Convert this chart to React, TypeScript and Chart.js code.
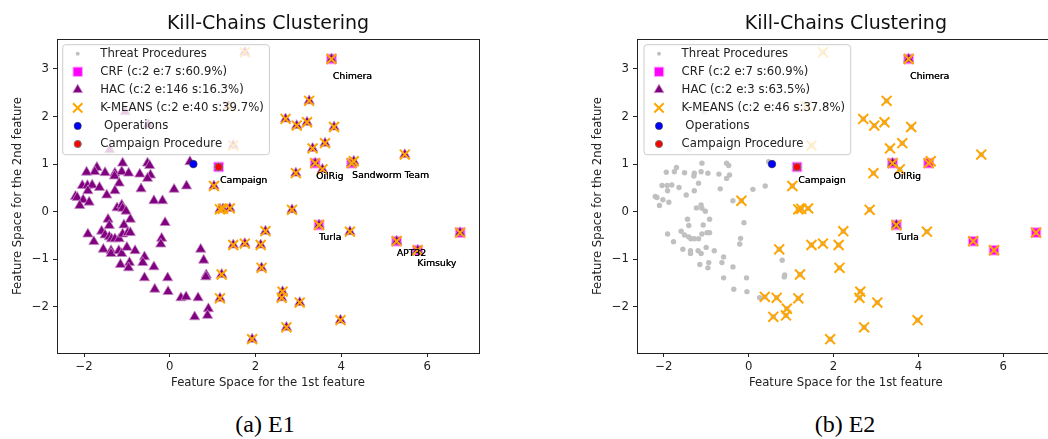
import React, { useEffect, useRef } from "react";
import { Chart, registerables } from "chart.js";

Chart.register(...registerables);

const FONT = '"DejaVu Sans", "Liberation Sans", sans-serif';
Chart.defaults.font.family = FONT;

// ---------- data ----------
// main group of threat procedures (left cloud)
const groupAX = [
  -1.70, -1.75, -1.94, -1.51, -1.28, -1.10, -1.12, -0.96, -1.29, -0.70, -0.52, -0.47, -0.45, -0.52,
  -2.04, -1.92, -1.81, -1.91, -1.64, -1.18, -1.28, -1.47, -0.67, 0.10, 0.39,
  -2.20, -2.16, -2.02, -1.88, -2.10, -0.37,
  -1.23, -1.12, -1.10, -1.02, -1.44, -0.92, -0.11, -1.41, -1.07,
  -1.91, -1.59, -1.51, -1.41, -1.36, -1.28, -1.18, -1.10, -0.98, -0.92, -1.77, -0.19, -0.21,
  -1.55, -1.37, -1.37, -1.19, -1.12, -1.00, -0.81, -0.59, -1.15, -0.94, -0.96, -0.63, -0.37,
  -0.59, -0.05, -0.35, -0.04, 0.26,
  0.79, 0.85, 0.84, 0.47, -1.04, -1.40, -0.50,
];
const groupAY = [
  0.93, 0.84, 0.83, 0.82, 0.81, 1.02, 0.84, 0.81, 0.75, 0.79, 1.02, 0.97, 0.77, 0.70,
  0.55, 0.55, 0.56, 0.44, 0.51, 0.60, 0.44, 0.35, 0.48, 0.47, 0.54,
  0.32, 0.30, 0.25, 0.20, 0.13, 0.23,
  0.08, 0.14, 0.07, 0.01, -0.16, -0.16, -0.23, -0.29, -0.28,
  -0.47, -0.41, -0.49, -0.53, -0.57, -0.57, -0.57, -0.47, -0.44, -0.44, -0.63, -0.56, -0.68,
  -0.79, -0.82, -0.88, -0.82, -0.88, -0.75, -0.82, -0.95, -1.11, -1.07, -1.18, -1.07, -1.16,
  -1.39, -1.39, -1.63, -1.68, -1.81,
  -1.02, -1.33, -1.37, 1.05, 2.10, 1.30, 1.83,
];
// borderline procedures (K-MEANS flags them only in E2)
const borderX = [-0.17, 0.72, 0.38, 0.66, 0.90, 0.88, 0.58];
const borderY = [0.23, -0.79, -1.79, -1.81, -2.04, -2.18, -2.21];
// outer group of procedures (right cloud)
const outerX = [
  1.75, 3.77, 3.25, 2.70, 2.96, 3.20, 3.83, 3.62, 3.33, 5.48,
  1.48, 1.37, 3.39, 3.56, 4.24, 4.29, 2.94, 1.03, 1.17, 1.24,
  1.40, 2.85, 3.48, 4.20, 5.29, 5.78, 6.77, 2.23, 1.48, 1.75,
  2.12, 2.14, 1.21, 1.17, 2.63, 2.61, 3.03, 3.98, 2.72, 1.92,
];
const outerY = [
  3.35, 3.21, 2.33, 1.95, 1.81, 1.88, 1.78, 1.44, 1.33, 1.20,
  1.39, 2.22, 1.02, 0.89, 1.02, 1.06, 0.81, 0.54, 0.05, 0.06,
  0.07, 0.04, -0.28, -0.42, -0.62, -0.81, -0.44, -0.41, -0.70, -0.67,
  -0.70, -1.18, -1.32, -1.82, -1.68, -1.81, -1.91, -2.28, -2.43, -2.68,
];
const campaignX = [1.14];
const campaignY = [0.94];
const operationsX = [0.55];
const operationsY = [1.0];
const crfX = [3.77, 1.14, 3.39, 4.24, 3.48, 5.29, 5.78, 6.77];
const crfY = [3.21, 0.94, 1.02, 1.02, -0.28, -0.62, -0.81, -0.44];
const hacE2X = [3.77, 3.39, 3.48];
const hacE2Y = [3.21, 1.02, -0.28];

const annotNames = ["Chimera", "Campaign", "OilRig", "Sandworm Team", "Turla", "APT32", "Kimsuky"];
const annotX = [3.80, 1.17, 3.41, 4.25, 3.48, 5.29, 5.77];
const annotY = [2.84, 0.65, 0.73, 0.75, -0.55, -0.89, -1.09];
const annotNamesE2 = ["Chimera", "Campaign", "OilRig", "Turla"];

const xTicks = [-2, 0, 2, 4, 6];
const yTicks = [-2, -1, 0, 1, 2, 3];
const X_RANGE = [-2.63, 7.21];
const Y_RANGE = [-2.97, 3.63];

const legendE1 = ["Threat Procedures", "CRF (c:2 e:7 s:60.9%)", "HAC (c:2 e:146 s:16.3%)", "K-MEANS (c:2 e:40 s:39.7%)", " Operations", "Campaign Procedure"];
const legendE2 = ["Threat Procedures", "CRF (c:2 e:7 s:60.9%)", "HAC (c:2 e:3 s:63.5%)", "K-MEANS (c:2 e:46 s:37.8%)", " Operations", "Campaign Procedure"];

// ---------- helpers ----------
const pts = (xs: number[], ys: number[]) => xs.map((x, i) => ({ x, y: ys[i] }));
const fmt = (v: number) => (v < 0 ? "\u2212" + Math.abs(v) : String(v));

function buildDatasets(variant: "E1" | "E2") {
  const A = pts(groupAX, groupAY);
  const B = pts(borderX, borderY);
  const C = pts(outerX, outerY);
  const labels = variant === "E1" ? legendE1 : legendE2;
  const threat = [...A, ...B, ...C, ...pts(campaignX, campaignY)];
  const hac = variant === "E1" ? [...A, ...B, ...C] : pts(hacE2X, hacE2Y);
  const km = variant === "E1" ? C : [...B, ...C];
  return [
    { label: labels[0], data: threat, pointStyle: "circle", pointRadius: 2.7, pointBackgroundColor: "#c0c0c0", pointBorderColor: "#c0c0c0", pointBorderWidth: 0, order: 6, legendRadius: 2 },
    { label: labels[1], data: pts(crfX, crfY), pointStyle: "rect", pointRadius: 6.8, pointBackgroundColor: "#ff00ff", pointBorderColor: "#ffa0ff", pointBorderWidth: 1, order: 5, legendRadius: 6.6 },
    { label: labels[2], data: hac, pointStyle: "triangle", pointRadius: 5.9, pointBackgroundColor: "#800080", pointBorderColor: "#c48ac4", pointBorderWidth: 0.8, order: 4, legendRadius: 5.6 },
    { label: labels[3], data: km, pointStyle: "crossRot", pointRadius: 7, pointBackgroundColor: "#ffa500", pointBorderColor: "#ffa500", pointBorderWidth: 2, order: 3, legendRadius: 6.6 },
    { label: labels[4], data: pts(operationsX, operationsY), pointStyle: "circle", pointRadius: 3.8, pointBackgroundColor: "#0000ff", pointBorderColor: "#333333", pointBorderWidth: 0.6, order: 2, legendRadius: 3.6 },
    { label: labels[5], data: pts(campaignX, campaignY), pointStyle: "circle", pointRadius: 3.8, pointBackgroundColor: "#ff0000", pointBorderColor: "#777777", pointBorderWidth: 1, order: 1, legendRadius: 3.6 },
  ];
}

function drawMarker(ctx: CanvasRenderingContext2D, style: string, x: number, y: number, r: number, fill: string, stroke: string, lw: number) {
  ctx.save();
  ctx.beginPath();
  if (style === "circle") {
    ctx.arc(x, y, r, 0, Math.PI * 2);
  } else if (style === "rect") {
    const s = r * Math.SQRT1_2;
    ctx.rect(x - s, y - s, 2 * s, 2 * s);
  } else if (style === "triangle") {
    let a = 0;
    ctx.moveTo(x + Math.sin(a) * r, y - Math.cos(a) * r);
    a += (2 * Math.PI) / 3;
    ctx.lineTo(x + Math.sin(a) * r, y - Math.cos(a) * r);
    a += (2 * Math.PI) / 3;
    ctx.lineTo(x + Math.sin(a) * r, y - Math.cos(a) * r);
    ctx.closePath();
  } else if (style === "crossRot") {
    const s = r * Math.SQRT1_2;
    ctx.moveTo(x - s, y - s);
    ctx.lineTo(x + s, y + s);
    ctx.moveTo(x + s, y - s);
    ctx.lineTo(x - s, y + s);
  }
  if (style !== "crossRot") {
    ctx.fillStyle = fill;
    ctx.fill();
  }
  if (lw > 0) {
    ctx.lineWidth = lw;
    ctx.strokeStyle = stroke;
    ctx.stroke();
  }
  ctx.restore();
}

const framePlugin = {
  id: "frame",
  afterDatasetsDraw(chart: any) {
    const { ctx, chartArea: a } = chart;
    ctx.save();
    ctx.strokeStyle = "#222";
    ctx.lineWidth = 1;
    ctx.strokeRect(Math.round(a.left) + 0.5, Math.round(a.top) + 0.5, Math.round(a.right - a.left), Math.round(a.bottom - a.top));
    ctx.restore();
  },
};

const labelPlugin = (names: string[]) => ({
  id: "pointLabels",
  afterDatasetsDraw(chart: any) {
    const { ctx } = chart;
    const xs = chart.scales.x;
    const ys = chart.scales.y;
    ctx.save();
    ctx.font = `9.3px ${FONT}`;
    ctx.fillStyle = "#000";
    ctx.textAlign = "left";
    ctx.textBaseline = "middle";
    annotNames.forEach((n, i) => {
      if (!names.includes(n)) return;
      const px = xs.getPixelForValue(annotX[i]);
      const py = ys.getPixelForValue(annotY[i]);
      // the source labels were rendered twice, which makes them look heavier
      ctx.fillText(n, px, py);
      ctx.fillText(n, px + 0.3, py);
    });
    ctx.restore();
  },
});

const legendPlugin = (dx: number) => ({
  id: "insideLegend",
  afterDraw(chart: any) {
    const { ctx, chartArea } = chart;
    const ds = chart.data.datasets;
    ctx.save();
    ctx.font = `11.7px ${FONT}`;
    const maxW = Math.max(...ds.map((d: any) => ctx.measureText(d.label).width));
    const bx = chartArea.left + dx;
    const by = chartArea.top + 5.7;
    const bw = 37.6 + maxW + 5.6;
    const bh = 110;
    ctx.beginPath();
    if ((ctx as any).roundRect) (ctx as any).roundRect(bx, by, bw, bh, 3);
    else ctx.rect(bx, by, bw, bh);
    ctx.fillStyle = "rgba(255,255,255,0.8)";
    ctx.fill();
    ctx.strokeStyle = "#cccccc";
    ctx.lineWidth = 1;
    ctx.stroke();
    ds.forEach((d: any, i: number) => {
      const cy = by + 9 + i * 18.06;
      drawMarker(ctx, d.pointStyle, bx + 15, cy, d.legendRadius, d.pointBackgroundColor, d.pointBorderColor, d.pointBorderWidth);
      ctx.fillStyle = "#222";
      ctx.textAlign = "left";
      ctx.textBaseline = "middle";
      ctx.fillText(d.label, bx + 37.6, cy);
    });
    ctx.restore();
  },
});

function makeConfig(variant: "E1" | "E2", padRight: number, legendDx: number): any {
  const tickFont = { size: 11.7, family: FONT };
  return {
    type: "scatter",
    data: { datasets: buildDatasets(variant) },
    options: {
      responsive: false,
      animation: false,
      events: [],
      layout: { padding: { left: 0, right: padRight, top: 0, bottom: 0 } },
      plugins: {
        legend: { display: false },
        tooltip: { enabled: false },
        title: {
          display: true,
          text: "Kill-Chains Clustering",
          fullSize: false,
          color: "#111",
          font: { size: 19, family: FONT, weight: "normal" },
          padding: { top: 12.6, bottom: 3.6 },
        },
      },
      scales: {
        x: {
          type: "linear",
          position: "bottom",
          min: X_RANGE[0],
          max: X_RANGE[1],
          afterBuildTicks: (s: any) => {
            s.ticks = xTicks.map((v) => ({ value: v }));
          },
          afterFit: (s: any) => {
            s.height = 37;
          },
          ticks: { callback: (v: number) => fmt(v), font: tickFont, color: "#222", padding: 3, autoSkip: false, maxRotation: 0 },
          grid: { drawOnChartArea: false, drawTicks: true, tickLength: 4, color: "#222" },
          border: { display: true, color: "#222", width: 1 },
          title: { display: true, text: "Feature Space for the 1st feature", font: tickFont, color: "#222", padding: { top: 0, bottom: 0 } },
        },
        y: {
          type: "linear",
          position: "left",
          min: Y_RANGE[0],
          max: Y_RANGE[1],
          afterBuildTicks: (s: any) => {
            s.ticks = yTicks.map((v) => ({ value: v }));
          },
          afterFit: (s: any) => {
            s.width = 57;
          },
          ticks: { callback: (v: number) => fmt(v), font: tickFont, color: "#222", padding: 4, autoSkip: false },
          grid: { drawOnChartArea: false, drawTicks: true, tickLength: 4, color: "#222" },
          border: { display: true, color: "#222", width: 1 },
          title: { display: true, text: "Feature Space for the 2nd feature", font: tickFont, color: "#222", padding: { top: 11.3, bottom: 0 } },
        },
      },
    },
    plugins: [framePlugin, labelPlugin(variant === "E1" ? annotNames : annotNamesE2), legendPlugin(legendDx)],
  };
}

export default function App() {
  const r1 = useRef<HTMLCanvasElement>(null);
  const r2 = useRef<HTMLCanvasElement>(null);
  useEffect(() => {
    const c1 = new Chart(r1.current as HTMLCanvasElement, makeConfig("E1", 41, 5.7));
    const c2 = new Chart(r2.current as HTMLCanvasElement, makeConfig("E2", 45.3, 7));
    return () => {
      c1.destroy();
      c2.destroy();
    };
  }, []);
  const capStyle: React.CSSProperties = {
    position: "absolute",
    top: 412,
    width: 200,
    textAlign: "center",
    fontFamily: '"Liberation Serif", "Times New Roman", serif',
    fontSize: 24,
    lineHeight: "24px",
    color: "#000",
  };
  return (
    <div style={{ position: "absolute", left: 0, top: 0, width: 1048, height: 439, overflow: "hidden", background: "#fff" }}>
      <canvas ref={r1} width={520} height={390} style={{ position: "absolute", left: 0, top: 0, width: 520, height: 390 }} />
      <canvas ref={r2} width={520} height={390} style={{ position: "absolute", left: 580, top: 0, width: 520, height: 390 }} />
      <div style={{ ...capStyle, left: 165 }}>(a) E1</div>
      <div style={{ ...capStyle, left: 745 }}>(b) E2</div>
    </div>
  );
}
